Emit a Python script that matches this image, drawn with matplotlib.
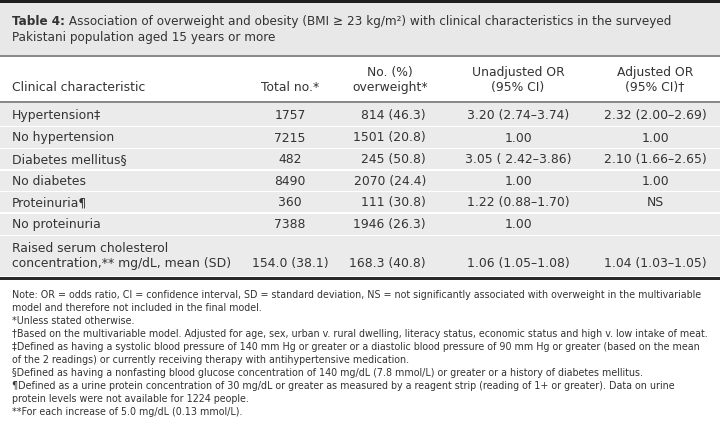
import matplotlib.pyplot as plt
from matplotlib.patches import Rectangle
from matplotlib import font_manager as fm

# table content
title_bold = "Table 4:"
title_rest = [" Association of overweight and obesity (BMI \u2265 23 kg/m\u00b2) with clinical characteristics in the surveyed",
              "Pakistani population aged 15 years or more"]

headers = [["Clinical characteristic"], ["Total no.*"], ["No. (%)", "overweight*"],
           ["Unadjusted OR", "(95% CI)"], ["Adjusted OR", "(95% CI)\u2020"]]

characteristics = ["Hypertension\u2021", "No hypertension", "Diabetes mellitus\u00a7", "No diabetes",
                   "Proteinuria\u00b6", "No proteinuria",
                   "Raised serum cholesterol\nconcentration,** mg/dL, mean (SD)"]
total_no = ["1757", "7215", "482", "8490", "360", "7388", "154.0 (38.1)"]
overweight = ["814 (46.3)", "1501 (20.8)", "245 (50.8)", "2070 (24.4)", "111 (30.8)",
              "1946 (26.3)", "168.3 (40.8)"]
unadjusted = ["3.20 (2.74\u20133.74)", "1.00", "3.05 ( 2.42\u20133.86)", "1.00",
              "1.22 (0.88\u20131.70)", "1.00", "1.06 (1.05\u20131.08)"]
adjusted = ["2.32 (2.00\u20132.69)", "1.00", "2.10 (1.66\u20132.65)", "1.00", "NS", "",
            "1.04 (1.03\u20131.05)"]

notes = [
    "Note: OR = odds ratio, CI = confidence interval, SD = standard deviation, NS = not significantly associated with overweight in the multivariable",
    "model and therefore not included in the final model.",
    "*Unless stated otherwise.",
    "\u2020Based on the multivariable model. Adjusted for age, sex, urban v. rural dwelling, literacy status, economic status and high v. low intake of meat.",
    "\u2021Defined as having a systolic blood pressure of 140 mm Hg or greater or a diastolic blood pressure of 90 mm Hg or greater (based on the mean",
    "of the 2 readings) or currently receiving therapy with antihypertensive medication.",
    "\u00a7Defined as having a nonfasting blood glucose concentration of 140 mg/dL (7.8 mmol/L) or greater or a history of diabetes mellitus.",
    "\u00b6Defined as a urine protein concentration of 30 mg/dL or greater as measured by a reagent strip (reading of 1+ or greater). Data on urine",
    "protein levels were not available for 1224 people.",
    "**For each increase of 5.0 mg/dL (0.13 mmol/L).",
]

W, H = 720, 425
txt = "#333333"

# condensed face if there is one, else plain Liberation and shrink to fit
cond = fm.FontProperties(family="DejaVu Sans", stretch="condensed")
if "Condensed" in fm.findfont(cond):
    narrow = dict(family="DejaVu Sans", stretch="condensed")
else:
    narrow = dict(family="Liberation Sans")
body = dict(family="DejaVu Sans")

fig = plt.figure(figsize=(W / 100, H / 100), dpi=100)
ax = fig.add_axes([0, 0, 1, 1])
ax.set_xlim(0, W)
ax.set_ylim(H, 0)
ax.axis("off")


def fit_size(s, target, start, **kw):
    t = ax.text(0, 0, s, fontsize=start, **kw)
    fig.canvas.draw()
    w = t.get_window_extent().width
    t.remove()
    return min(start, start * target / w)


# caption box
ax.add_patch(Rectangle((0, 0), W, 55, color="#e8e8e8", lw=0))
ax.add_patch(Rectangle((0, 0), W, 2.5, color="#1e1e1e", lw=0))
ax.add_patch(Rectangle((0, 54.5), W, 2.5, color="#8a8a8a", lw=0))
tfs = fit_size(title_bold + title_rest[0], 660, 10.5, **narrow)
t = ax.text(12, 21, title_bold, fontsize=tfs, fontweight="bold", color=txt, va="center", **narrow)
fig.canvas.draw()
bb = t.get_window_extent()
x_after = ax.transData.inverted().transform((bb.x1, 0))[0]
ax.text(x_after, 21, title_rest[0], fontsize=tfs, color=txt, va="center", **narrow)
ax.text(12, 37.5, title_rest[1], fontsize=tfs, color=txt, va="center", **narrow)

# column positions: (x, alignment)
cols = [(12, "left"), (290, "center"), (426, "right"), (518, "center"), (655, "center")]
head_x = [12, 290, 390, 518, 655]
fs = 8.9

for (x, ha), hx, lines in zip(cols, head_x, headers):
    if len(lines) == 1:
        ax.text(hx, 87, lines[0], fontsize=fs, color=txt, va="center",
                ha="left" if ha == "left" else "center", **body)
    else:
        for i, ln in enumerate(lines):
            ax.text(hx, 72 + 15 * i, ln, fontsize=fs, color=txt, va="center", ha="center", **body)

ax.add_patch(Rectangle((0, 101), W, 2, color="#8a8a8a", lw=0))

row_tops = [103, 127, 149, 170.5, 192, 213.5, 236]
row_bottoms = row_tops[1:] + [277]
for i, (top, bot) in enumerate(zip(row_tops, row_bottoms)):
    ax.add_patch(Rectangle((0, top), W, bot - top - 1.5, color="#ebebeb", lw=0))
    values = [characteristics[i], total_no[i], overweight[i], unadjusted[i], adjusted[i]]
    if "\n" in characteristics[i]:
        l1, l2 = characteristics[i].split("\n")
        ax.text(12, 248, l1, fontsize=fs, color=txt, va="center", **body)
        ax.text(12, 263, l2, fontsize=fs, color=txt, va="center", **body)
        yv = 263
        values[0] = ""
    else:
        yv = (top + bot) / 2
    for (x, ha), v in zip(cols, values):
        if v:
            ax.text(x, yv, v, fontsize=fs, color=txt, va="center", ha=ha, **body)

ax.add_patch(Rectangle((0, 277), W, 3, color="#2a2a2a", lw=0))

nfs = fit_size(notes[3], 699, 8.3, **narrow)
for i, ln in enumerate(notes):
    ax.text(12, 295 + 13 * i, ln, fontsize=nfs, color=txt, va="center", **narrow)

fig.savefig("out.png", dpi=100, facecolor="white")
